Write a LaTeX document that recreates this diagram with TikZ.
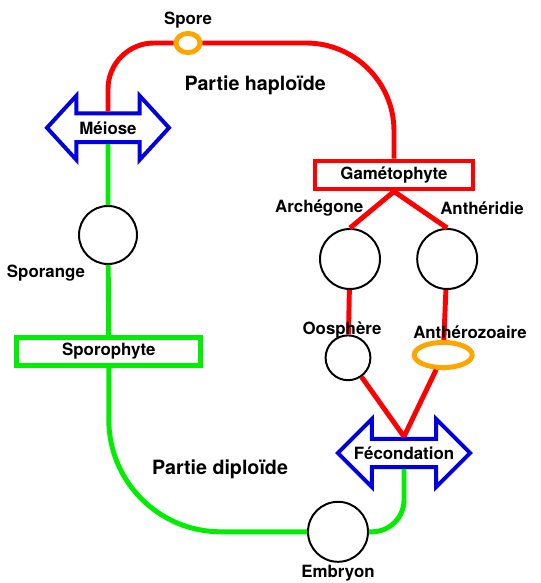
\documentclass[tikz,border=0pt]{standalone}
\usepackage{fontspec}
\setmainfont{TeX Gyre Heros}
\usetikzlibrary{shapes.geometric,shapes.arrows}
\definecolor{lineRed}{RGB}{255,0,0}
\definecolor{lineGreen}{RGB}{0,238,0}
\definecolor{arrowBlue}{RGB}{0,0,225}
\definecolor{sporeOrange}{RGB}{255,165,0}
\begin{document}
\begin{tikzpicture}[font=\fontsize{12}{14}\selectfont\bfseries,
  haplo/.style={draw=lineRed, line width=3.5pt},
  diplo/.style={draw=lineGreen, line width=3.5pt},
  cell/.style={draw, circle, line width=1.4pt, fill=white, minimum size=1.5cm, inner sep=0pt},
  phase/.style={draw=arrowBlue, double arrow, line width=2.8pt, fill=white, inner xsep=0pt, inner ysep=3.3pt, minimum height=3.05cm, minimum width=1.6cm, double arrow head extend=0.4cm},
  gamete/.style={draw=sporeOrange, ellipse, line width=3.5pt, fill=white, inner sep=0pt},
  stage/.style={rectangle, line width=3.5pt, fill=white, minimum height=0.7cm, inner sep=0pt},
  title/.style={font=\fontsize{14}{16}\selectfont\bfseries}]
\useasboundingbox (0,0) rectangle (13.5,14.575);
% haploid side
\node[gamete, minimum width=0.6cm, minimum height=0.48cm] (spore) at (4.70,13.5) {};
\node[stage, draw=lineRed, minimum width=3.95cm] (gameto) at (9.85,10.20) {Gamétophyte};
\node[cell] (archeg) at (8.75,8.10) {};
\node[cell] (antherid) at (11.18,8.10) {};
\node[cell, minimum size=1.12cm] (oosph) at (8.70,5.63) {};
\node[gamete, minimum width=1.45cm, minimum height=0.63cm] (antheroz) at (11.08,5.70) {};
% diploid side
\node[phase, double arrow tip angle=95] (meiose) at (2.70,11.38) {Méiose};
\node[cell, minimum size=1.45cm] (sporange) at (2.70,8.70) {};
\node[stage, draw=lineGreen, minimum width=4.6cm] (sporo) at (2.72,5.79) {Sporophyte\hspace{0.45cm}};
\node[cell] (embryon) at (8.45,1.28) {};
\node[phase, double arrow tip angle=90, minimum width=1.7cm, double arrow head extend=0.46cm, minimum height=3.1cm] (fecond) at (10.10,3.25) {Fécondation};
\coordinate (fectop) at (10.10,3.66);
% connectors
\draw[haplo, rounded corners=1.15cm] (meiose) |- (spore);
\draw[haplo, rounded corners=2.2cm] (spore) -| (gameto);
\draw[haplo] (gameto.south) -- (archeg.north);
\draw[haplo] (gameto.south) -- (antherid.north);
\draw[haplo] (archeg) -- (oosph);
\draw[haplo] (antherid) -- (antheroz);
\draw[haplo] (oosph) -- (fectop);
\draw[haplo] (antheroz) -- (fectop);
\draw[diplo] (meiose) -- (sporange);
\draw[diplo] (sporange) -- (sporo);
\draw[diplo, rounded corners=2.8cm] (sporo) |- (embryon);
\draw[diplo, rounded corners=0.8cm] (embryon) -| (fecond);
% labels
\node (sporelbl) at (4.70,14.08) {Spore};
\node[title] (haplolbl) at (6.38,12.45) {Partie haploïde};
\node (archeglbl) at (7.98,9.38) {Archégone};
\node (antheridlbl) at (12.05,9.38) {Anthéridie};
\node (oosphlbl) at (8.55,6.33) {Oosphère};
\node (antherozlbl) at (11.75,6.28) {Anthérozoaire};
\node (sporangelbl) at (1.15,7.75) {Sporange};
\node[title] (diplolbl) at (5.50,2.83) {Partie diploïde};
\node (embryonlbl) at (8.45,0.25) {Embryon};
\end{tikzpicture}
\end{document}
